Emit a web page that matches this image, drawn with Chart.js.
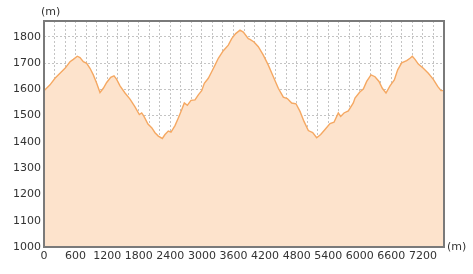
<!DOCTYPE html>
<html>
<head>
<meta charset="utf-8">
<script src="https://cdn.jsdelivr.net/npm/chart.js@4"></script>
<style>
  html, body { margin: 0; padding: 0; background: #fff; }
  #wrap { width: 473px; height: 274px; }
</style>
</head>
<body>
<div id="wrap"><canvas id="myChart"></canvas></div>
<script>
// distance along the route (m) and altitude (m)
const distance = [0, 114, 209, 304, 399, 494, 557, 633, 684, 747, 811, 874, 937, 1001, 1064, 1127, 1191, 1267, 1330, 1381,
    1444, 1539, 1634, 1729, 1811, 1856, 1900, 1975, 2046, 2109, 2172, 2248, 2299, 2362, 2413, 2489, 2552, 2616, 2666, 2723,
    2793, 2869, 2932, 2996, 3046, 3122, 3186, 3249, 3312, 3407, 3502, 3566, 3642, 3724, 3787, 3882, 3914, 3990, 4072, 4167,
    4262, 4357, 4452, 4547, 4623, 4706, 4788, 4864, 4940, 5022, 5105, 5181, 5257, 5339, 5434, 5510, 5592, 5637, 5700, 5782,
    5877, 5909, 6000, 6067, 6131, 6213, 6289, 6365, 6428, 6498, 6574, 6656, 6720, 6796, 6891, 6954, 6998, 7049, 7112, 7207,
    7302, 7397, 7480, 7543, 7600];
const altitude = [1595, 1617, 1642, 1661, 1680, 1705, 1714, 1726, 1721, 1705, 1699, 1680, 1655, 1623, 1588, 1604, 1626, 1646, 1651, 1638,
    1613, 1586, 1563, 1533, 1504, 1510, 1497, 1468, 1454, 1435, 1422, 1413, 1428, 1441, 1437, 1462, 1491, 1522, 1548, 1539,
    1558, 1560, 1579, 1595, 1623, 1642, 1667, 1692, 1718, 1747, 1768, 1793, 1812, 1825, 1818, 1793, 1790, 1780, 1762, 1730,
    1692, 1648, 1604, 1570, 1565, 1548, 1545, 1516, 1478, 1443, 1435, 1416, 1428, 1447, 1470, 1475, 1510, 1497, 1510, 1518,
    1548, 1567, 1590, 1601, 1630, 1655, 1648, 1630, 1604, 1586, 1613, 1636, 1674, 1701, 1709, 1718, 1726, 1714, 1696, 1680,
    1661, 1638, 1611, 1595, 1595];

const xMax = 7600;
const yMin = 1000;
const yMax = 1860;
const xLabelStep = 600;
const yLabelStep = 100;
const unitLabel = '(m)';

const points = distance.map(function(d, i){ return {x: d, y: altitude[i]}; });

// frame round the plot + the two "(m)" unit labels
const frame = {
    id: 'frame',
    afterDraw: function(chart){
        const c = chart.ctx;
        const a = chart.chartArea;
        c.save();
        c.strokeStyle = '#7a7a7a';
        c.lineWidth = 2;
        c.strokeRect(a.left, a.top, a.right - a.left, a.bottom - a.top);
        c.fillStyle = '#333';
        c.font = '11px "DejaVu Sans"';
        c.textBaseline = 'middle';
        c.textAlign = 'left';
        c.fillText(unitLabel, a.left - 3, a.top - 9);
        c.fillText(unitLabel, a.right + 3, a.bottom);
        c.restore();
    }
};

Chart.defaults.font.family = '"DejaVu Sans"';
Chart.defaults.font.size = 11;
Chart.defaults.color = '#333';

let ctx = document.getElementById('myChart').getContext('2d');
let myChart = new Chart(ctx, {
    type: 'line',
    data: {
        datasets: [{
            data: points,
            borderColor: '#f5a862',
            backgroundColor: '#fde3cc',
            borderWidth: 1.4,
            pointRadius: 0,
            fill: 'start',
            tension: 0
        }]
    },
    options: {
        responsive: true,
        maintainAspectRatio: false,
        animation: false,
        layout: { padding: { left: 0, right: 29, top: 21, bottom: 0 } },
        plugins: { legend: { display: false }, tooltip: { enabled: false } },
        scales: {
            x: {
                type: 'linear',
                min: 0,
                max: xMax,
                afterFit: function(scale){ scale.height = 27; },
                grid: { color: '#c4c4c4', drawTicks: false, lineWidth: 1 },
                border: { display: false, dash: [2, 2] },
                ticks: {
                    stepSize: 200,
                    autoSkip: false,
                    maxRotation: 0,
                    padding: 3,
                    callback: function(v){ return v % xLabelStep === 0 ? String(v) : ''; }
                }
            },
            y: {
                min: yMin,
                max: yMax,
                afterFit: function(scale){ scale.width = 44; },
                grid: { color: '#c4c4c4', drawTicks: false, lineWidth: 1 },
                border: { display: false, dash: [2, 2] },
                ticks: {
                    stepSize: 100,
                    padding: 3,
                    callback: function(v){ return v % yLabelStep === 0 ? String(v) : ''; }
                }
            }
        }
    },
    plugins: [frame]
});
</script>
</body>
</html>
